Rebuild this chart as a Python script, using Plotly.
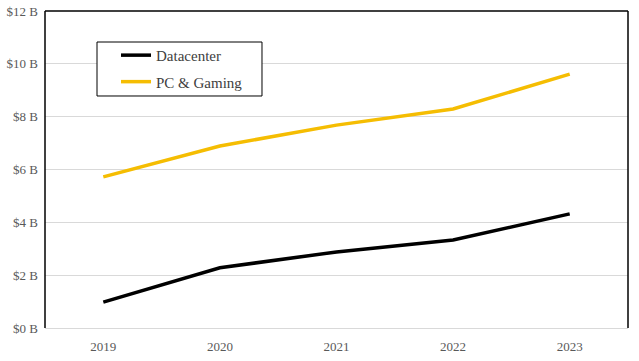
import plotly.graph_objects as go

years = ["2019", "2020", "2021", "2022", "2023"]
datacenter = [0.98, 2.28, 2.88, 3.33, 4.32]
pc_gaming = [5.72, 6.89, 7.68, 8.29, 9.61]
y_ticks = [0, 2, 4, 6, 8, 10, 12]
y_labels = ["$%d B" % v for v in y_ticks]

FONT = "Liberation Serif, DejaVu Serif, serif"

fig = go.Figure()
fig.add_trace(go.Scatter(x=years, y=datacenter, mode="lines", name="Datacenter",
                         line=dict(color="#000000", width=3.5), legendgroup="a"))
fig.add_trace(go.Scatter(x=years, y=pc_gaming, mode="lines", name="PC & Gaming",
                         line=dict(color="#F5BD02", width=3.5), legendgroup="b"))

fig.update_layout(
    template="none",
    width=639, height=361,
    margin=dict(l=45, r=11, t=11, b=33, autoexpand=False),
    paper_bgcolor="white", plot_bgcolor="white",
    font=dict(family=FONT, color="#595959", size=13),
    showlegend=True,
    legend=dict(x=0.1218, y=0.912, xanchor="left", yanchor="top",
                borderwidth=0, bgcolor="rgba(0,0,0,0)",
                font=dict(family=FONT, size=15, color="#404040"),
                tracegroupgap=4),
    xaxis=dict(type="category", range=[-0.5, 4.5], showgrid=False, automargin=False,
               showline=True, linecolor="#D9D9D9", linewidth=1,
               ticks="", ticklabelstandoff=6,
               tickfont=dict(family=FONT, size=13, color="#595959"), zeroline=False),
    yaxis=dict(range=[0, 12], tickvals=y_ticks, ticktext=y_labels, automargin=False,
               showgrid=True, gridcolor="#D9D9D9", gridwidth=1, zeroline=False,
               showline=False, ticks="", ticklabelstandoff=6, ticklabeloverflow="allow",
               tickfont=dict(family=FONT, size=13, color="#595959")),
)
# plot-area border (left, top, right)
for x0, y0, x1, y1 in [(0, 0, 0, 1), (0, 1, 1, 1), (1, 0, 1, 1)]:
    fig.add_shape(type="line", xref="paper", yref="paper", x0=x0, y0=y0, x1=x1, y1=y1,
                  line=dict(color="black", width=1.5))
# legend frame
fig.add_shape(type="rect", xref="paper", yref="paper", x0=0.0892, x1=0.3722,
              y0=0.7319, y1=0.9022, line=dict(color="black", width=1), fillcolor="white")

fig.write_html("out.html", config={"displayModeBar": False},
               post_script="document.body.style.margin='0';document.body.style.padding='0';")
